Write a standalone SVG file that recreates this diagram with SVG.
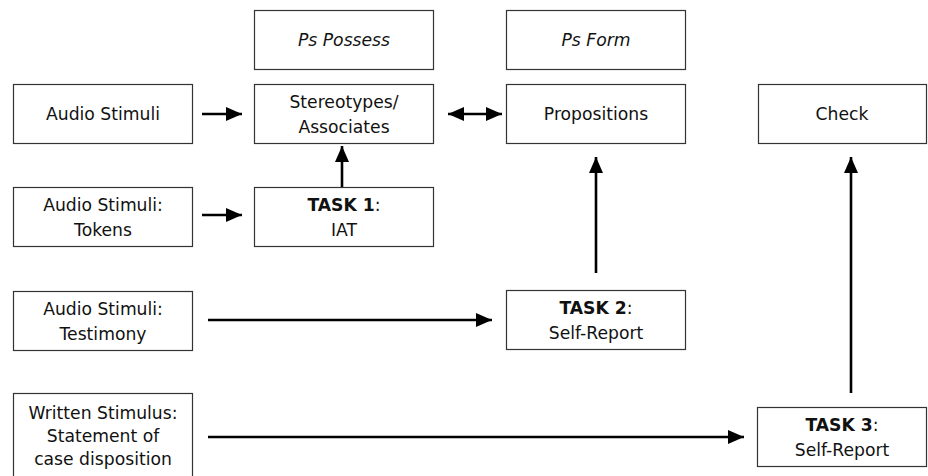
<svg xmlns="http://www.w3.org/2000/svg" width="928" height="476" viewBox="0 0 928 476">
<style>
.box{fill:#fff;stroke:#333;stroke-width:1.2}
.t{font-family:"DejaVu Sans",Verdana,sans-serif;font-size:17.2px;fill:#111;text-anchor:middle}
.i{font-style:italic}
.b{font-weight:bold}
.c{fill:none;stroke:#000;stroke-width:2.6}
</style>
<defs>
<marker id="ah" markerUnits="userSpaceOnUse" markerWidth="18" markerHeight="16" refX="16" refY="8" orient="auto-start-reverse">
<path d="M0,1 L16,8 L0,15 Z" fill="#000"/>
</marker>
</defs>
<rect width="928" height="476" fill="#fff"/>
<g id="connectors">
<line class="c" x1="202" y1="114" x2="242" y2="114" marker-end="url(#ah)"/>
<line class="c" x1="202" y1="215" x2="242" y2="215" marker-end="url(#ah)"/>
<line class="c" x1="342" y1="187" x2="342" y2="146" marker-end="url(#ah)"/>
<line class="c" x1="448" y1="114" x2="502" y2="114" marker-start="url(#ah)" marker-end="url(#ah)"/>
<line class="c" x1="596" y1="273" x2="596" y2="157" marker-end="url(#ah)"/>
<line class="c" x1="851" y1="393" x2="851" y2="157" marker-end="url(#ah)"/>
<line class="c" x1="208" y1="320" x2="492" y2="320" marker-end="url(#ah)"/>
<line class="c" x1="208" y1="437" x2="744" y2="437" marker-end="url(#ah)"/>
</g>
<g id="ps-possess"><rect class="box" x="254.5" y="10.5" width="179" height="59"/><text class="t i" x="344" y="46">Ps Possess</text></g>
<g id="ps-form"><rect class="box" x="506.5" y="10.5" width="179" height="59"/><text class="t i" x="596" y="46">Ps Form</text></g>
<g id="audio-stimuli"><rect class="box" x="13.5" y="84.5" width="179" height="59"/><text class="t" x="103" y="120">Audio Stimuli</text></g>
<g id="stereotypes"><rect class="box" x="254.5" y="84.5" width="179" height="59"/><text class="t" x="344" y="108">Stereotypes/</text><text class="t" x="344" y="133">Associates</text></g>
<g id="propositions"><rect class="box" x="506.5" y="84.5" width="179" height="59"/><text class="t" x="596" y="120">Propositions</text></g>
<g id="check"><rect class="box" x="758.5" y="84.5" width="168" height="59"/><text class="t" x="842" y="120">Check</text></g>
<g id="tokens"><rect class="box" x="13.5" y="187.5" width="179" height="59"/><text class="t" x="103" y="211">Audio Stimuli:</text><text class="t" x="103" y="236">Tokens</text></g>
<g id="task1"><rect class="box" x="254.5" y="187.5" width="179" height="59"/><text class="t" x="344" y="211"><tspan class="b">TASK 1</tspan>:</text><text class="t" x="344" y="236">IAT</text></g>
<g id="testimony"><rect class="box" x="13.5" y="291.5" width="179" height="59"/><text class="t" x="103" y="315">Audio Stimuli:</text><text class="t" x="103" y="340">Testimony</text></g>
<g id="task2"><rect class="box" x="506.5" y="290.5" width="179" height="59"/><text class="t" x="596" y="314"><tspan class="b">TASK 2</tspan>:</text><text class="t" x="596" y="339">Self-Report</text></g>
<g id="written"><rect class="box" x="13.5" y="393.5" width="179" height="90"/><text class="t" x="103" y="419">Written Stimulus:</text><text class="t" x="103" y="442">Statement of</text><text class="t" x="103" y="465">case disposition</text></g>
<g id="task3"><rect class="box" x="757.5" y="407.5" width="169" height="59"/><text class="t" x="842" y="431"><tspan class="b">TASK 3</tspan>:</text><text class="t" x="842" y="456">Self-Report</text></g>
</svg>
